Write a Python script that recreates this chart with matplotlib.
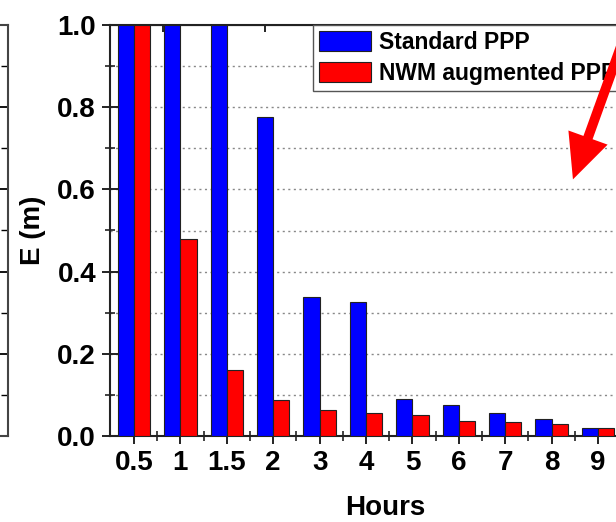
import numpy as np
import matplotlib.pyplot as plt
from matplotlib.ticker import MultipleLocator, FormatStrFormatter

plt.rcParams['font.family'] = ['Liberation Sans', 'DejaVu Sans']
plt.rcParams['font.weight'] = 'bold'

hours = ['0.5', '1', '1.5', '2', '3', '4', '5', '6', '7', '8', '9']
standard_ppp = [1.0, 1.0, 1.0, 0.776, 0.338, 0.326, 0.090, 0.075, 0.055, 0.042, 0.020]
nwm_ppp = [1.0, 0.479, 0.161, 0.088, 0.063, 0.056, 0.051, 0.036, 0.033, 0.030, 0.020]

W, H = 616, 522
fig = plt.figure(figsize=(W / 100, H / 100), dpi=100)

# bit of the neighbouring panel on the left
ax0 = fig.add_axes([-0.5, (H - 436) / H, 0.5 + 8 / W, 411 / H])
ax0.set_ylim(0, 1)
ax0.set_xlim(0, 1)
ax0.spines['left'].set_visible(False)
for s in ['right', 'top', 'bottom']:
    ax0.spines[s].set_color('#444444')
    ax0.spines[s].set_linewidth(1.5)
ax0.yaxis.tick_right()
ax0.yaxis.set_major_locator(MultipleLocator(0.2))
ax0.yaxis.set_minor_locator(MultipleLocator(0.1))
ax0.tick_params(axis='y', which='major', direction='in', length=8, width=1.3, labelright=False)
ax0.tick_params(axis='y', which='minor', direction='in', length=5, width=1.0)
ax0.set_xticks([])

# main panel
x0, x1 = 110, 660
ax = fig.add_axes([x0 / W, (H - 436) / H, (x1 - x0) / W, 411 / H])
x = np.arange(len(hours))
w = 0.35
ax.bar(x - w, standard_ppp, w, align='edge', color='#0000ff', edgecolor='#222222',
       linewidth=0.8, label='Standard PPP', zorder=3)
ax.bar(x, nwm_ppp, w, align='edge', color='#ff0000', edgecolor='#222222',
       linewidth=0.8, label='NWM augmented PPP', zorder=3)

spacing = 46.4
ax.set_xlim((x0 - 134) / spacing, (x1 - 134) / spacing)
ax.set_ylim(0, 1.0)
ax.set_xticks(x)
ax.set_xticklabels(hours)
ax.set_xticks(x + 0.5, minor=True)
ax.yaxis.set_major_locator(MultipleLocator(0.2))
ax.yaxis.set_minor_locator(MultipleLocator(0.1))
ax.yaxis.set_major_formatter(FormatStrFormatter('%.1f'))
ax.tick_params(axis='both', which='major', direction='inout', length=12, width=1.4,
               labelsize=20, pad=4, color='#222222')
ax.tick_params(axis='both', which='minor', direction='inout', length=7, width=1.2,
               color='#222222')
for s in ax.spines.values():
    s.set_linewidth(1.5)
    s.set_color('#222222')

for yv in np.arange(0.1, 1.0, 0.1):
    ax.axhline(yv, color='#888888', linestyle=(0, (1.5, 2.5)), linewidth=1.0, zorder=1)

# ticks along the top spine
top = ax.secondary_xaxis('top')
top.set_xticks(0.625 + 1.103 * np.arange(9))
top.tick_params(direction='in', length=5, width=1.2, labeltop=False)

ax.set_xlabel('Hours', fontsize=20, fontweight='bold', labelpad=14)
ax.set_ylabel('E (m)', fontsize=20, fontweight='bold', labelpad=8)

ax.legend(loc='upper left', bbox_to_anchor=((313 - x0) / (x1 - x0), 1.0),
          fontsize=16.5, frameon=True, fancybox=False, edgecolor='#555555',
          framealpha=1, borderaxespad=0, borderpad=0.25, handlelength=2.3,
          handleheight=1.0, handletextpad=0.35, labelspacing=0.35)
ax.get_legend().get_frame().set_linewidth(1.0)

# red arrow on the right, drawn over the legend
ax.annotate('', xy=(572, H - 182), xytext=(634, H - 10), xycoords='figure pixels',
            textcoords='figure pixels', annotation_clip=False, zorder=10,
            arrowprops=dict(arrowstyle='simple,head_length=3.2,head_width=3.0,tail_width=0.7',
                            mutation_scale=10, color='#ff0000', lw=0))

fig.savefig('out.png', dpi=100)
